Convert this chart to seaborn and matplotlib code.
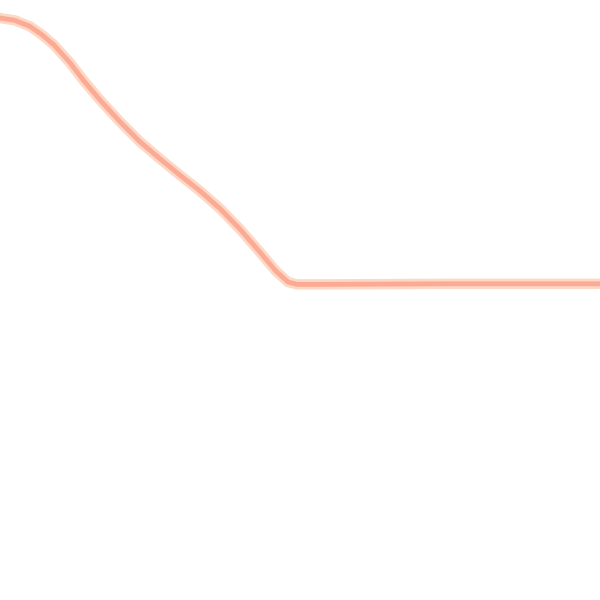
import numpy as np
import pandas as pd
import matplotlib
matplotlib.use('Agg')
import matplotlib.pyplot as plt
import seaborn as sns

# values (x and y both on a 0-100 scale)
x_vals = [0, 2.5, 5, 7, 9, 11.7, 14, 16.7, 20, 23.3, 26.7, 30, 33.3, 36.7, 40, 43.3, 46, 48, 49.5, 53.3, 75, 100]
y_vals = [97, 96.6, 95.6, 94.2, 92.5, 89.5, 86.5, 83.3, 79.7, 76.4, 73.5, 70.8, 68.2, 65.2, 61.8, 58, 54.8, 53, 52.6, 52.6, 52.7, 52.7]

df = pd.DataFrame({'x': x_vals, 'y': y_vals})

sns.set_style('white')
fig = plt.figure(figsize=(6, 6), dpi=100)
ax = fig.add_axes([0, 0, 1, 1])

sns.lineplot(data=df, x='x', y='y', ax=ax, color='#fdd8c4', linewidth=7.5, sort=False)
sns.lineplot(data=df, x='x', y='y', ax=ax, color='#fbab95', linewidth=3.5, sort=False)

ax.set_xlim(0, 100)
ax.set_ylim(0, 100)
ax.axis('off')

plt.savefig('out.png', dpi=100, facecolor='white')
